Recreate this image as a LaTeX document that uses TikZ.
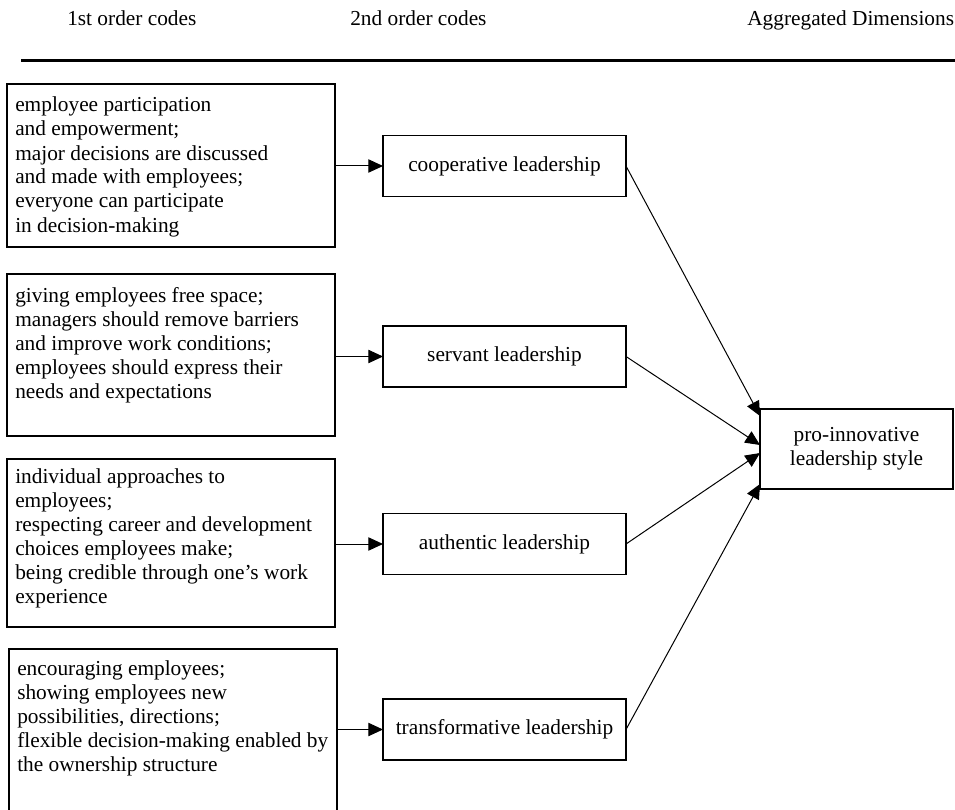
\documentclass[tikz,border=0pt]{standalone}
\usepackage{fontspec}
\setmainfont{Liberation Serif}
\usetikzlibrary{arrows.meta,calc}
\begin{document}
\begin{tikzpicture}[x=0.75pt,y=-0.75pt,
  every node/.style={font=\fontsize{16pt}{18pt}\selectfont},
  codebox/.style={draw, line width=0.8pt, inner sep=0pt, outer sep=0pt, minimum width=246pt},
  codetext/.style={inner sep=0pt, anchor=base west, align=left},
  secbox/.style={draw, line width=0.8pt, inner sep=0pt, outer sep=0pt, minimum width=182.25pt, minimum height=45.75pt},
  aggbox/.style={draw, line width=0.8pt, inner sep=0pt, outer sep=0pt, minimum width=144.75pt, minimum height=60pt, align=center},
  head/.style={inner sep=0pt, anchor=base west},
  conn/.style={line width=0.75pt, -{Triangle[length=11pt,width=10pt]}}
]
\clip (0,0) rectangle (955,809);
% headers
\node[head] (h1) at (67,26) {1st order codes};
\node[head] (h2) at (350,26) {2nd order codes};
\node[head] (h3) at (747,26) {Aggregated Dimensions};
\draw[line width=2.25pt] (21,61) -- (955,61);
% first-order boxes (text nodes anchored at the baseline of their last line)
\node[codebox, minimum height=122.25pt] (b1) at (171,165.5) {};
\node[codetext] (t1) at (15,232) {employee participation\\and empowerment;\\major decisions are discussed\\and made with employees;\\everyone can participate\\in decision-making};
\node[codebox, minimum height=121.5pt] (b2) at (171,355) {};
\node[codetext] (t2) at (15,398) {giving employees free space;\\managers should remove barriers\\and improve work conditions;\\employees should express their\\needs and expectations};
\node[codebox, minimum height=126pt] (b3) at (171,543) {};
\node[codetext] (t3) at (15,603) {individual approaches to\\employees;\\respecting career and development\\choices employees make;\\being credible through one’s work\\experience};
\node[codebox, minimum height=124.5pt] (b4) at (173,732) {};
\node[codetext] (t4) at (17,771) {encouraging employees;\\showing employees new\\possibilities, directions;\\flexible decision-making enabled by\\the ownership structure};
% second-order boxes
\node[secbox] (c1) at (504.5,166) {cooperative leadership};
\node[secbox] (c2) at (504.5,356.5) {servant leadership};
\node[secbox] (c3) at (504.5,544) {authentic leadership};
\node[secbox] (c4) at (504.5,729.5) {transformative leadership};
% aggregated
\node[aggbox] (p) at (856.5,449) {pro-innovative\\leadership style};
% connectors
\draw[conn] (b1.east |- c1) -- (c1.west);
\draw[conn] (b2.east |- c2) -- (c2.west);
\draw[conn] (b3.east |- c3) -- (c3.west);
\draw[conn] (b4.east |- c4) -- (c4.west);
\draw[conn] (c1.east) -- ($(p.west)+(0,-33)$);
\draw[conn] (c2.east) -- ($(p.west)+(0,-4)$);
\draw[conn] (c3.east) -- ($(p.west)+(0,4)$);
\draw[conn] (c4.east) -- ($(p.west)+(0,35)$);
\end{tikzpicture}
\end{document}
